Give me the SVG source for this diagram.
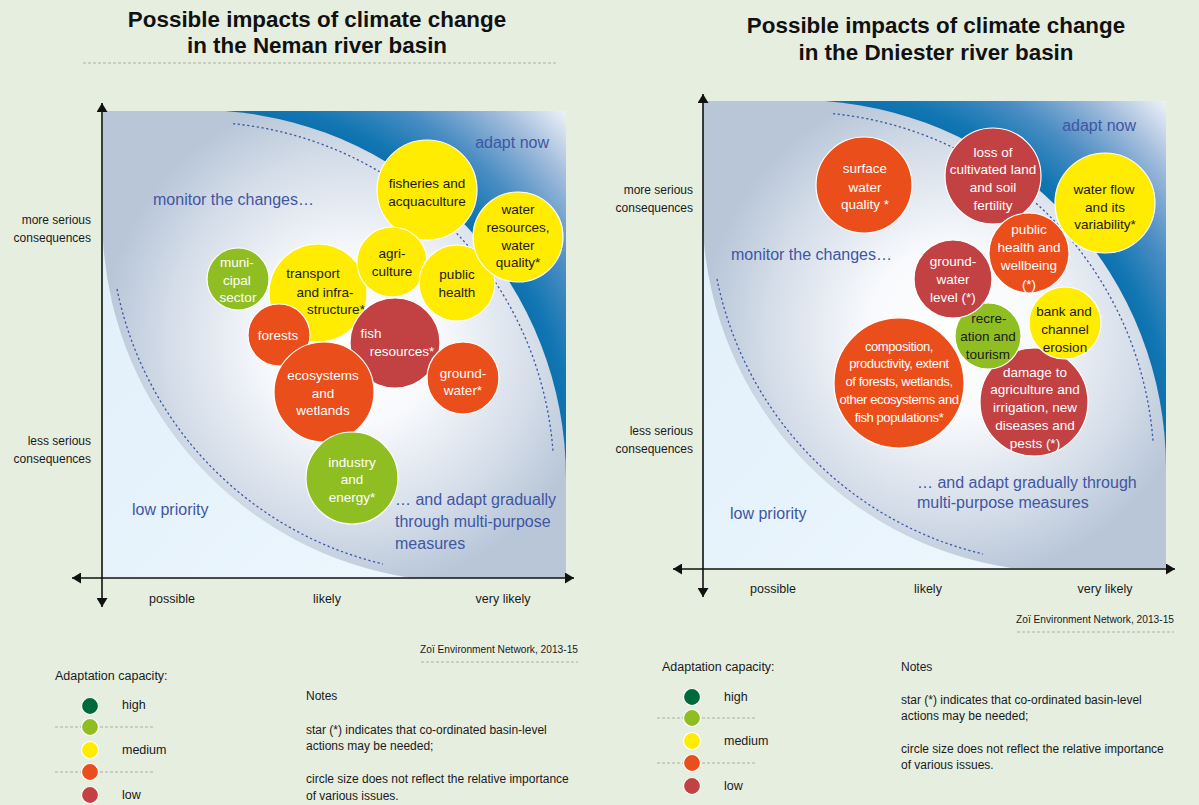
<svg xmlns="http://www.w3.org/2000/svg" width="1199" height="805" viewBox="0 0 1199 805">
<style>
 .t{font-family:"Liberation Sans",Arial,sans-serif}
 .title{font-weight:bold;font-size:22.4px;fill:#111;text-anchor:middle}
 .ax{font-size:12px;fill:#1a1a1a;text-anchor:end}
 .xl{font-size:12.5px;fill:#1a1a1a;text-anchor:middle}
 .zone{font-size:16px;fill:#3f56a3}
 .n text{font-family:"Liberation Sans",Arial,sans-serif;font-size:13.5px;text-anchor:middle}
 .n circle{stroke:#fff;stroke-width:1.2}
 .y circle{fill:#ffec00} .y text{fill:#1a1a1a}
 .o circle{fill:#e94e1b} .o text{fill:#fff}
 .r circle{fill:#c24143} .r text{fill:#fff}
 .g circle{fill:#8fbe23} .g text{fill:#fff}
 .g.dk text{fill:#1a1a1a}
 .cond text{font-size:13px;letter-spacing:-0.4px}
 .axis{stroke:#111;stroke-width:1.6;fill:none;marker-start:url(#arr);marker-end:url(#arr)}
 .dots{fill:none;stroke:#3b56a6;stroke-width:1.3;stroke-dasharray:2.2 2.6}
 .rule{stroke:#a3aaa1;stroke-width:0.9;stroke-dasharray:3 2;fill:none}
 .leg{font-size:12.5px;fill:#1a1a1a}
 .note{font-size:12px;fill:#1a1a1a}
 .credit{font-size:10.2px;fill:#1a1a1a;text-anchor:end}
 .lc{stroke:#fff;stroke-width:1.2}
</style>
<defs>
 <marker id="arr" viewBox="0 0 10 10" refX="10" refY="5" markerWidth="9" markerHeight="11" markerUnits="userSpaceOnUse" orient="auto-start-reverse" preserveAspectRatio="none">
  <path d="M0,0 L10,5 L0,10 Z" fill="#111"/>
 </marker>
 <radialGradient id="gDark" gradientUnits="userSpaceOnUse" cx="95" cy="367" r="520">
  <stop offset="0.70" stop-color="#0a70ad"/>
  <stop offset="0.73" stop-color="#1276b2"/>
  <stop offset="0.81" stop-color="#4a8dc3"/>
  <stop offset="0.91" stop-color="#a2bcdc"/>
  <stop offset="1" stop-color="#eff3f9"/>
 </radialGradient>
 <radialGradient id="gMid" gradientUnits="userSpaceOnUse" cx="250" cy="230" r="250">
  <stop offset="0" stop-color="#ffffff"/>
  <stop offset="0.35" stop-color="#f7f9fc"/>
  <stop offset="0.75" stop-color="#d3dce8"/>
  <stop offset="1" stop-color="#b8c6d8"/>
 </radialGradient>
 <linearGradient id="gLight" x1="0" y1="0" x2="1" y2="1">
  <stop offset="0" stop-color="#e2f0fa"/>
  <stop offset="1" stop-color="#ecf6fd"/>
 </linearGradient>
 <g id="plotbg">
  <rect x="0" y="0" width="463" height="467" fill="url(#gDark)"/>
  <path d="M0,0 L122,0 A368,368 0 0 1 463,367 L463,467 L0,467 Z" fill="url(#gMid)"/>
  <path d="M0,129 A363,363 0 0 0 308,467 L0,467 Z" fill="url(#gLight)"/>
  <path class="dots" d="M130,12.7 A356,356 0 0 1 450,340"/>
  <path class="dots" d="M14,178 A355,355 0 0 0 280,453"/>
 </g>
</defs>
<rect class="bg" x="0" y="0" width="1199" height="805" fill="#e6eee0"/>

<!-- ============ LEFT: NEMAN ============ -->
<g id="neman">
 <text class="t title" x="317" y="27">Possible impacts of climate change</text>
 <text class="t title" x="317" y="53">in the Neman river basin</text>
 <line class="rule" x1="83" y1="63" x2="557" y2="63"/>
 <use href="#plotbg" transform="translate(103,111)"/>
 <text class="t zone" x="549" y="148" text-anchor="end">adapt now</text>
 <text class="t zone" x="153" y="205">monitor the changes…</text>
 <text class="t zone" x="132" y="515">low priority</text>
 <text class="t zone" x="395" y="505">… and adapt gradually</text>
 <text class="t zone" x="395" y="527">through multi-purpose</text>
 <text class="t zone" x="395" y="549">measures</text>
 <g id="neman-axes">
  <path class="axis" d="M102,607 L102,103"/>
  <path class="axis" d="M72,578 L574,578"/>
 </g>
 <text class="t ax" x="91" y="224">more serious</text>
 <text class="t ax" x="91" y="242">consequences</text>
 <text class="t ax" x="91" y="445">less serious</text>
 <text class="t ax" x="91" y="463">consequences</text>
 <text class="t xl" x="172" y="603">possible</text>
 <text class="t xl" x="327" y="603">likely</text>
 <text class="t xl" x="503" y="603">very likely</text>

 <g id="n-fisheries" class="n y"><circle cx="427" cy="190" r="50"/><text x="427" y="188">fisheries and</text><text x="427" y="206">acquaculture</text></g>
 <g id="n-transport" class="n y"><circle cx="318" cy="293" r="49"/><text x="313" y="278">transport</text><text x="325" y="297">and infra-</text><text x="336" y="314">structure*</text></g>
 <g id="n-agriculture" class="n y"><circle cx="392" cy="262" r="35"/><text x="392" y="258">agri-</text><text x="392" y="276">culture</text></g>
 <g id="n-publichealth" class="n y"><circle cx="457" cy="283" r="38"/><text x="457" y="279">public</text><text x="457" y="297">health</text></g>
 <g id="n-waterres" class="n y"><circle cx="518" cy="237" r="45"/><text x="518" y="214">water</text><text x="518" y="232">resources,</text><text x="518" y="250">water</text><text x="518" y="267">quality*</text></g>
 <g id="n-municipal" class="n g"><circle cx="238" cy="279" r="31"/><text x="237" y="267">muni-</text><text x="237" y="285">cipal</text><text x="238" y="302">sector</text></g>
 <g id="n-forests" class="n o"><circle cx="279" cy="335" r="31"/><text x="278" y="340">forests</text></g>
 <g id="n-fish" class="n r"><circle cx="395" cy="343" r="45"/><text x="371" y="338">fish</text><text x="402" y="356">resources*</text></g>
 <g id="n-ecosystems" class="n o"><circle cx="324" cy="392" r="50"/><text x="323" y="380">ecosystems</text><text x="323" y="398">and</text><text x="323" y="415">wetlands</text></g>
 <g id="n-groundwater" class="n o"><circle cx="463" cy="378" r="36"/><text x="463" y="378">ground-</text><text x="463" y="395">water*</text></g>
 <g id="n-industry" class="n g"><circle cx="352" cy="478" r="46"/><text x="352" y="467">industry</text><text x="352" y="484">and</text><text x="352" y="502">energy*</text></g>

 <text class="t credit" x="578" y="653">Zoï Environment Network, 2013-15</text>
 <line class="rule" x1="421" y1="662" x2="578" y2="662"/>

 <g id="neman-legend">
  <text class="t leg" x="55" y="680">Adaptation capacity:</text>
  <line class="rule" x1="55" y1="727" x2="155" y2="727"/>
  <line class="rule" x1="55" y1="772" x2="155" y2="772"/>
  <circle class="lc" cx="90" cy="706" r="8.5" fill="#006b3a"/>
  <circle class="lc" cx="90" cy="727" r="8.5" fill="#8fbe23"/>
  <circle class="lc" cx="90" cy="750" r="8.5" fill="#ffec00"/>
  <circle class="lc" cx="90" cy="772" r="8.5" fill="#e94e1b"/>
  <circle class="lc" cx="90" cy="795" r="8.5" fill="#c24143"/>
  <text class="t leg" x="122" y="709">high</text>
  <text class="t leg" x="122" y="754">medium</text>
  <text class="t leg" x="122" y="799">low</text>
  <text class="t note" x="306" y="700">Notes</text>
  <text class="t note" x="306" y="734">star (*) indicates that co-ordinated basin-level</text>
  <text class="t note" x="306" y="750">actions may be needed;</text>
  <text class="t note" x="306" y="783">circle size does not reflect the relative importance</text>
  <text class="t note" x="306" y="800">of various issues.</text>
 </g>
</g>

<!-- ============ RIGHT: DNIESTER ============ -->
<g id="dniester">
 <text class="t title" x="936" y="33">Possible impacts of climate change</text>
 <text class="t title" x="936" y="60">in the Dniester river basin</text>
 <use href="#plotbg" transform="translate(703,101)"/>
 <text class="t zone" x="1136" y="131" text-anchor="end">adapt now</text>
 <text class="t zone" x="731" y="260">monitor the changes…</text>
 <text class="t zone" x="730" y="519">low priority</text>
 <text class="t zone" x="917" y="488">… and adapt gradually through</text>
 <text class="t zone" x="917" y="508">multi-purpose measures</text>
 <g id="dniester-axes">
  <path class="axis" d="M703,597 L703,94"/>
  <path class="axis" d="M673,569 L1175,569"/>
 </g>
 <text class="t ax" x="693" y="194">more serious</text>
 <text class="t ax" x="693" y="212">consequences</text>
 <text class="t ax" x="693" y="435">less serious</text>
 <text class="t ax" x="693" y="453">consequences</text>
 <text class="t xl" x="773" y="593">possible</text>
 <text class="t xl" x="928" y="593">likely</text>
 <text class="t xl" x="1105" y="593">very likely</text>

 <g id="d-surface" class="n o"><circle cx="864" cy="185" r="48"/><text x="865" y="173">surface</text><text x="865" y="192">water</text><text x="865" y="209">quality *</text></g>
 <g id="d-loss" class="n r"><circle cx="993" cy="176" r="48"/><text x="993" y="157">loss of</text><text x="993" y="174">cultivated land</text><text x="993" y="192">and soil</text><text x="993" y="210">fertility</text></g>
 <g id="d-waterflow" class="n y"><circle cx="1105" cy="203" r="50"/><text x="1104" y="194">water flow</text><text x="1105" y="212">and its</text><text x="1105" y="229">variability*</text></g>
 <g id="d-publichealth" class="n o"><circle cx="1029" cy="253" r="40"/><text x="1029" y="234">public</text><text x="1029" y="252">health and</text><text x="1029" y="270">wellbeing</text><text x="1029" y="289">(*)</text></g>
 <g id="d-composition" class="n o cond"><circle cx="899" cy="383" r="65"/><text x="899" y="351">composition,</text><text x="899" y="368">productivity, extent</text><text x="899" y="386">of forests, wetlands,</text><text x="899" y="404">other ecosystems and</text><text x="899" y="422">fish populations*</text></g>
 <g id="d-damage" class="n r"><circle cx="1034" cy="402" r="54"/><text x="1035" y="377">damage to</text><text x="1035" y="394">agriculture and</text><text x="1035" y="412">irrigation, new</text><text x="1035" y="430">diseases and</text><text x="1035" y="448">pests (*)</text></g>
 <g id="d-recreation" class="n g dk"><circle cx="988" cy="336" r="33"/><text x="989" y="323">recre-</text><text x="988" y="341">ation and</text><text x="988" y="359">tourism</text></g>
 <g id="d-groundwater" class="n r"><circle cx="953" cy="279" r="39"/><text x="953" y="266">ground-</text><text x="953" y="284">water</text><text x="953" y="302">level (*)</text></g>
 <g id="d-bank" class="n y"><circle cx="1065" cy="323" r="36"/><text x="1064" y="316">bank and</text><text x="1065" y="334">channel</text><text x="1065" y="352">erosion</text></g>

 <text class="t credit" x="1174" y="623">Zoï Environment Network, 2013-15</text>
 <line class="rule" x1="1017" y1="632" x2="1174" y2="632"/>

 <g id="dniester-legend">
  <text class="t leg" x="662" y="671">Adaptation capacity:</text>
  <line class="rule" x1="657" y1="718" x2="757" y2="718"/>
  <line class="rule" x1="657" y1="763" x2="757" y2="763"/>
  <circle class="lc" cx="692" cy="697" r="8.5" fill="#006b3a"/>
  <circle class="lc" cx="692" cy="718" r="8.5" fill="#8fbe23"/>
  <circle class="lc" cx="692" cy="741" r="8.5" fill="#ffec00"/>
  <circle class="lc" cx="692" cy="763" r="8.5" fill="#e94e1b"/>
  <circle class="lc" cx="692" cy="786" r="8.5" fill="#c24143"/>
  <text class="t leg" x="724" y="701">high</text>
  <text class="t leg" x="724" y="745">medium</text>
  <text class="t leg" x="724" y="790">low</text>
  <text class="t note" x="901" y="671">Notes</text>
  <text class="t note" x="901" y="704">star (*) indicates that co-ordinated basin-level</text>
  <text class="t note" x="901" y="720">actions may be needed;</text>
  <text class="t note" x="901" y="753">circle size does not reflect the relative importance</text>
  <text class="t note" x="901" y="769">of various issues.</text>
 </g>
</g>
</svg>
